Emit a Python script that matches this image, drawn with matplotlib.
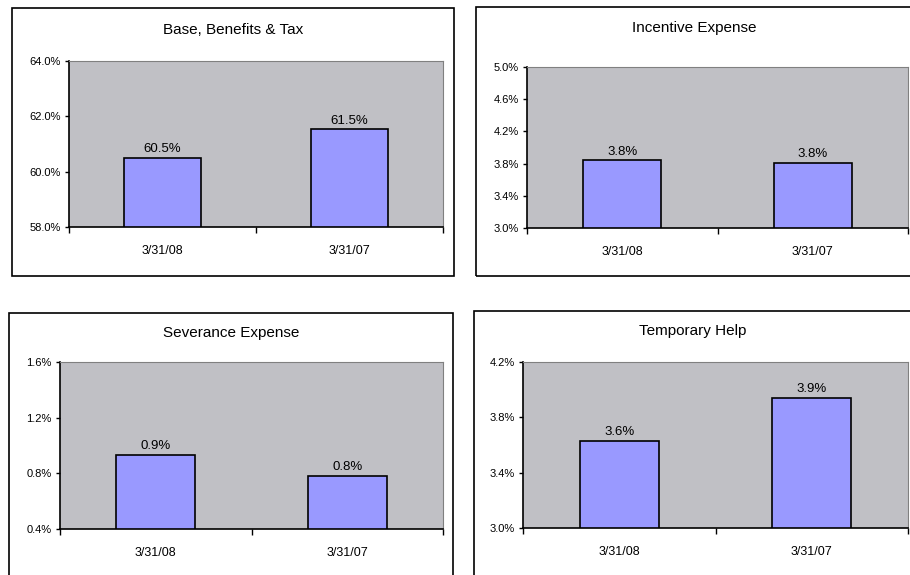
import matplotlib
matplotlib.use('Agg')
import matplotlib.pyplot as plt
from matplotlib.patches import Rectangle

plt.rcParams['font.family'] = ['Liberation Sans', 'DejaVu Sans']

dates = ['3/31/08', '3/31/07']

titles = ['Base, Benefits & Tax', 'Incentive Expense', 'Severance Expense', 'Temporary Help']
base_vals = [60.49, 61.53]
incentive_vals = [3.84, 3.81]
severance_vals = [0.93, 0.78]
temp_vals = [3.63, 3.94]

base_ticks = [58.0, 60.0, 62.0, 64.0]
incentive_ticks = [3.0, 3.4, 3.8, 4.2, 4.6, 5.0]
severance_ticks = [0.4, 0.8, 1.2, 1.6]
temp_ticks = [3.0, 3.4, 3.8, 4.2]

W, H = 910, 575
fig = plt.figure(figsize=(W / 100, H / 100), dpi=100)

# pixel boxes: (frame box), (plot area), title y
panels = [
    (base_vals, base_ticks, titles[0], (12, 8, 454, 276), (69, 61, 443, 227), 30),
    (incentive_vals, incentive_ticks, titles[1], (476, 7, 914, 276), (527, 67, 908, 228), 28),
    (severance_vals, severance_ticks, titles[2], (9, 313, 453, 580), (60, 362, 443, 529), 333),
    (temp_vals, temp_ticks, titles[3], (474, 311, 914, 580), (523, 362, 908, 528), 331),
]


def fr(x0, y0, x1, y1):
    return [x0 / W, 1 - y1 / H, (x1 - x0) / W, (y1 - y0) / H]


for vals, ticks, title, box, area, ty in panels:
    x0, y0, x1, y1 = box
    fig.patches.append(Rectangle((x0 / W, 1 - y1 / H), (x1 - x0) / W, (y1 - y0) / H,
                                 transform=fig.transFigure, fill=False,
                                 edgecolor='black', linewidth=1.2))
    cx = (x0 + min(x1, 912)) / 2
    fig.text(cx / W, 1 - ty / H, title, ha='center', va='center', fontsize=11)

    ax = fig.add_axes(fr(*area))
    ax.set_facecolor('#C0C0C5')
    ax.bar([0.5, 1.5], vals, width=0.41, color='#9999FF', edgecolor='black', linewidth=1.2)
    for i, v in enumerate(vals):
        ax.annotate(f'{v:.1f}%', (0.5 + i, v), xytext=(0, 2), textcoords='offset points',
                    ha='center', va='bottom', fontsize=9.5)
    ax.set_xlim(0, 2)
    ax.set_ylim(ticks[0], ticks[-1])
    ax.set_yticks(ticks)
    ax.set_yticklabels([f'{t:.1f}%' for t in ticks], fontsize=8)
    ax.set_xticks([0, 1, 2])
    ax.set_xticklabels([])
    ax.set_xticks([0.5, 1.5], minor=True)
    ax.set_xticklabels(dates, minor=True, fontsize=9)
    ax.tick_params(axis='x', which='minor', length=0, pad=13)
    ax.tick_params(axis='x', which='major', length=4, direction='out', width=1)
    ax.tick_params(axis='y', length=3, width=1, pad=3)
    for s in ['top', 'right']:
        ax.spines[s].set_color('#808080')
        ax.spines[s].set_linewidth(0.8)
    for s in ['left', 'bottom']:
        ax.spines[s].set_color('black')
        ax.spines[s].set_linewidth(1.2)

fig.savefig('out.png', dpi=100)
